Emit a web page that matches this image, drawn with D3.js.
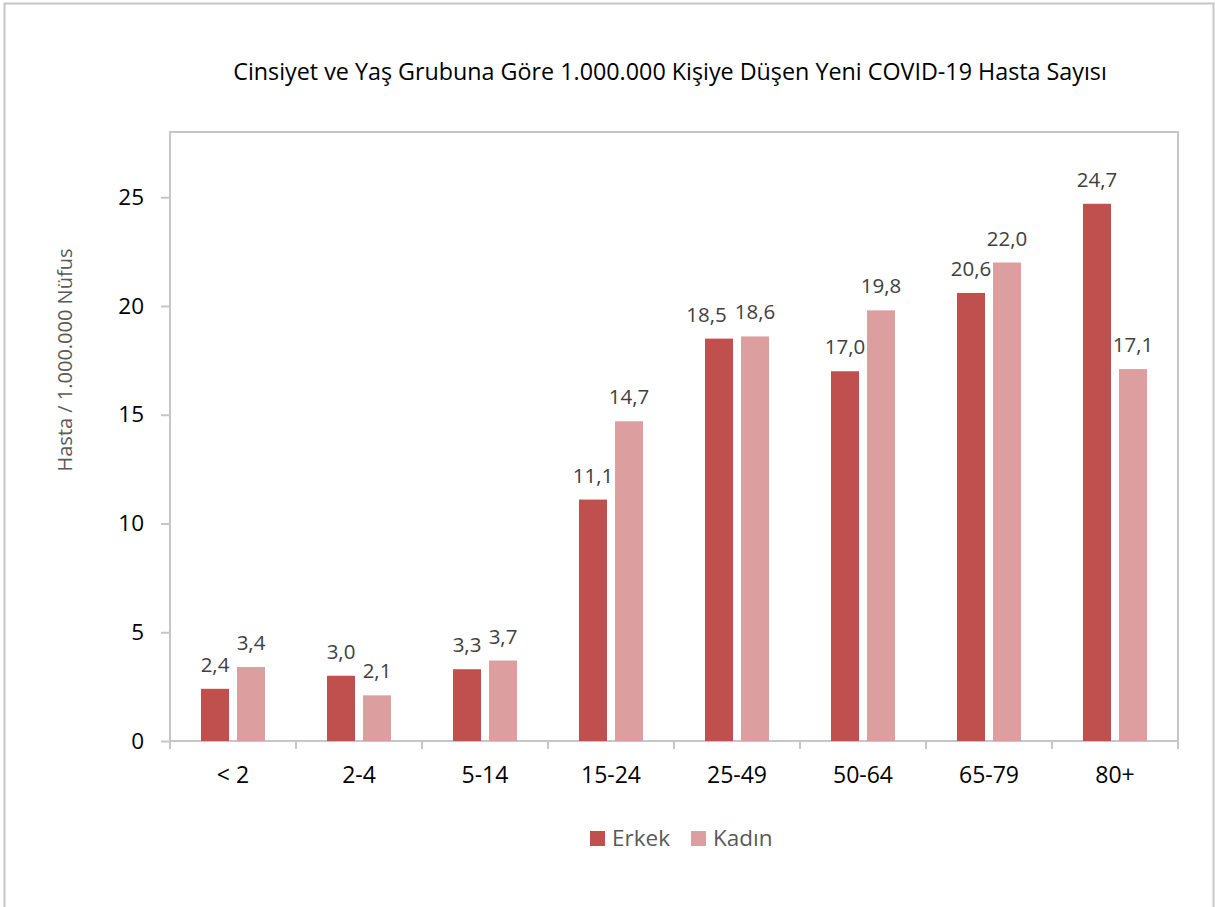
<!DOCTYPE html>
<html>
<head>
<meta charset="utf-8">
<script src="https://cdn.jsdelivr.net/npm/d3@7"></script>
<style>
  body { margin: 0; background: #fff; }
  text { font-family: "Open Sans", "Noto Sans", sans-serif; }
</style>
</head>
<body>
<div id="chart"></div>
<script>
// Age groups and values per 1.000.000 people
var ageGroups = ['< 2', '2-4', '5-14', '15-24', '25-49', '50-64', '65-79', '80+'];
var seriesNames = ['Erkek', 'Kadın'];
var erkek = [2.4, 3.0, 3.3, 11.1, 18.5, 17.0, 20.6, 24.7];
var kadin = [3.4, 2.1, 3.7, 14.7, 18.6, 19.8, 22.0, 17.1];
var yTicks = [0, 5, 10, 15, 20, 25];
var colors = ['#c0504d', '#dd9e9f'];

var width = 1215, height = 907;
var plot = {left: 170, right: 1178, top: 132, bottom: 741};

var svg = d3.select('#chart').append('svg')
	.attr('width', width)
	.attr('height', height);

// outer chart frame
svg.append('rect')
	.attr('x', 4.5).attr('y', 3.5)
	.attr('width', 1209).attr('height', 920)
	.attr('fill', '#fff')
	.attr('stroke', '#c6c6c6')
	.attr('stroke-width', 2);

svg.append('text')
	.attr('x', 670)
	.attr('y', 80)
	.attr('text-anchor', 'middle')
	.style('font-size', '23.3px')
	.attr('fill', '#000')
	.text('Cinsiyet ve Yaş Grubuna Göre 1.000.000 Kişiye Düşen Yeni COVID-19 Hasta Sayısı');

var x0 = d3.scaleBand()
	.domain(ageGroups)
	.range([plot.left, plot.right]);

var x1 = d3.scaleBand()
	.domain(seriesNames)
	.range([0, x0.bandwidth()])
	.paddingInner(0.2222)
	.paddingOuter(0.8611);

var y = d3.scaleLinear()
	.domain([0, 28])
	.range([plot.bottom, plot.top]);

// plot area frame
svg.append('rect')
	.attr('x', plot.left).attr('y', plot.top)
	.attr('width', plot.right - plot.left)
	.attr('height', plot.bottom - plot.top)
	.attr('fill', 'none')
	.attr('stroke', '#c6c6c6')
	.attr('stroke-width', 2);

// y axis
var yAxis = svg.append('g')
	.attr('transform', 'translate(' + plot.left + ',0)')
	.call(d3.axisLeft(y).tickValues(yTicks).tickSize(9).tickPadding(17).tickFormat(d3.format('d')));
yAxis.select('.domain').remove();
yAxis.selectAll('line').attr('stroke', '#c6c6c6').attr('stroke-width', 2);
yAxis.selectAll('text')
	.style('font-size', '22.5px')
	.attr('fill', '#000');

// x axis: ticks on category boundaries
var xAxis = svg.append('g')
	.attr('transform', 'translate(0,' + plot.bottom + ')');
var bounds = ageGroups.map(function (d) { return x0(d); }).concat([plot.right]);
xAxis.selectAll('line')
	.data(bounds).enter().append('line')
	.attr('x1', function (d) { return d; })
	.attr('x2', function (d) { return d; })
	.attr('y1', 0).attr('y2', 8)
	.attr('stroke', '#c6c6c6')
	.attr('stroke-width', 2);
xAxis.selectAll('text')
	.data(ageGroups).enter().append('text')
	.attr('x', function (d) { return x0(d) + x0.bandwidth() / 2; })
	.attr('y', 42)
	.attr('text-anchor', 'middle')
	.style('font-size', '23px')
	.attr('fill', '#000')
	.text(function (d) { return d; });

svg.append('text')
	.attr('transform', 'translate(72,360) rotate(-90)')
	.attr('text-anchor', 'middle')
	.style('font-size', '20px')
	.attr('fill', '#595959')
	.text('Hasta / 1.000.000 Nüfus');

var rows = ageGroups.map(function (g, i) {
	return {group: g, values: [erkek[i], kadin[i]]};
});

var groups = svg.selectAll('g.grp')
	.data(rows).enter().append('g')
	.attr('class', 'grp')
	.attr('transform', function (d) { return 'translate(' + x0(d.group) + ',0)'; });

groups.selectAll('rect')
	.data(function (d) { return d.values.map(function (v, j) { return {s: seriesNames[j], v: v, j: j}; }); })
	.enter().append('rect')
	.attr('x', function (d) { return x1(d.s); })
	.attr('y', function (d) { return y(d.v); })
	.attr('width', x1.bandwidth())
	.attr('height', function (d) { return y(0) - y(d.v); })
	.attr('fill', function (d) { return colors[d.j]; });

var fmt = function (v) { return d3.format('.1f')(v).replace('.', ','); };

groups.each(function (d) {
	var g = d3.select(this);
	var labels = d.values.map(function (v, j) {
		return g.append('text')
			.attr('x', x1(seriesNames[j]) + x1.bandwidth() / 2)
			.attr('y', y(v) - 17)
			.attr('text-anchor', 'middle')
			.style('font-size', '20.5px')
			.attr('fill', '#404040')
			.text(fmt(v));
	});
	// nudge the left label if it collides with the right one
	var a = labels[0].node().getBBox(), b = labels[1].node().getBBox();
	var overlapX = a.x + a.width + 6 > b.x;
	var overlapY = Math.abs(a.y - b.y) < a.height * 0.8;
	if (overlapX && overlapY) {
		var shift = a.x + a.width + 8 - b.x;
		labels[0].attr('x', +labels[0].attr('x') - shift);
	}
});

// legend
var legend = svg.append('g').attr('transform', 'translate(590,831)');
seriesNames.forEach(function (s, i) {
	var lx = i == 0 ? 0 : 101;
	legend.append('rect')
		.attr('x', lx).attr('y', 0)
		.attr('width', 15).attr('height', 15)
		.attr('fill', colors[i]);
	legend.append('text')
		.attr('x', lx + 22).attr('y', 15)
		.style('font-size', '22.5px')
		.attr('fill', '#595959')
		.text(s);
});
</script>
</body>
</html>
